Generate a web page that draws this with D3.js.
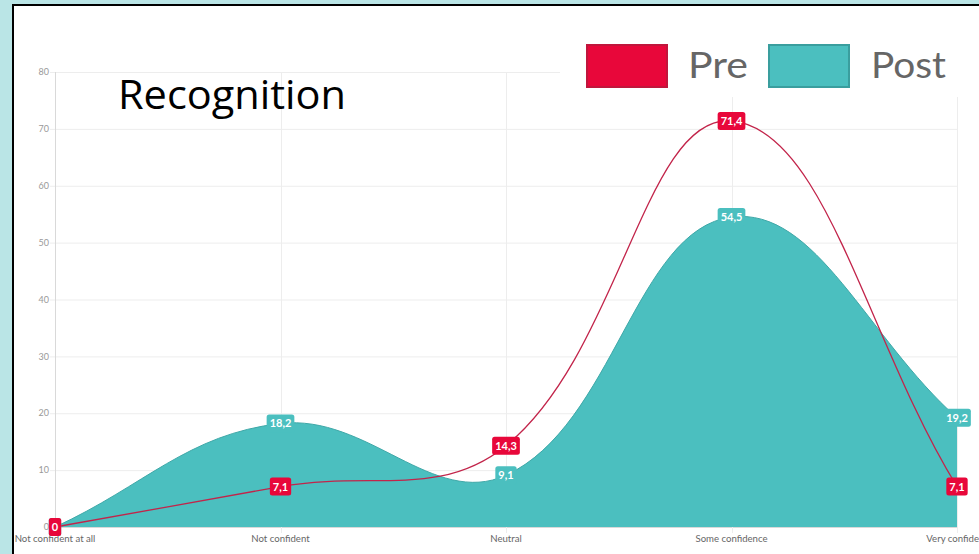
<!DOCTYPE html>
<html><head><meta charset="utf-8">
<script src="https://cdn.jsdelivr.net/npm/d3@7"></script>
<style>
html,body{margin:0;padding:0;background:#bae5e6;}
svg{display:block;}
</style></head>
<body>
<svg id="c" width="979" height="554"></svg>
<script>
const categories = ["Not confident at all","Not confident","Neutral","Some confidence","Very confident"];
const preValues = [0, 7.1, 14.3, 71.4, 7.1];
const postValues = [0, 18.2, 9.1, 54.5, 19.2];
const yTicks = [0,10,20,30,40,50,60,70,80];
const seriesNames = ["Pre","Post"];
const titleText = "Recognition";

const svg = d3.select("#c");
const W = 979, H = 554;
const area = {left:55, right:957, top:72, bottom:527};

svg.append("rect").attr("x",0).attr("y",0).attr("width",W).attr("height",H).attr("fill","#bae5e6");
svg.append("rect").attr("x",13).attr("y",5).attr("width",W-13).attr("height",H-5).attr("fill","#ffffff");

const x = d3.scalePoint().domain(categories).range([area.left, area.right]);
const y = d3.scaleLinear().domain([0,80]).range([area.bottom, area.top]);

// grid
const g = svg.append("g");
g.selectAll(".hg").data(yTicks).join("line")
  .attr("x1",area.left-5).attr("x2",area.right)
  .attr("y1",d=>y(d)+0.5).attr("y2",d=>y(d)+0.5)
  .attr("stroke",d=>d===0?"#d9d9d9":"#ededed").attr("stroke-width",1);
g.selectAll(".vg").data(categories).join("line")
  .attr("x1",d=>Math.round(x(d))+0.5).attr("x2",d=>Math.round(x(d))+0.5)
  .attr("y1",area.top).attr("y2",area.bottom+6)
  .attr("stroke",(d,i)=>i===0?"#d9d9d9":"#ededed").attr("stroke-width",1);

// axis labels
g.selectAll(".yl").data(yTicks).join("text")
  .attr("x",area.left-6).attr("y",d=>y(d)).attr("dy","0.35em")
  .attr("text-anchor","end").attr("font-family","Lato").attr("font-size",9)
  .attr("fill","#999").text(d=>d);
g.selectAll(".xl").data(categories).join("text")
  .attr("x",d=>x(d)).attr("y",area.bottom+15)
  .attr("text-anchor","middle").attr("font-family","Lato").attr("font-size",9.6)
  .attr("fill","#666").text(d=>d);

// Chart.js-style spline
function chartPath(vals, closeToBase){
  const pts = vals.map((v,i)=>({x:x(categories[i]), y:y(v)}));
  const t = 0.4, n = pts.length;
  pts.forEach((p,i)=>{
    const prev = pts[Math.max(i-1,0)], next = pts[Math.min(i+1,n-1)];
    const d01 = Math.hypot(p.x-prev.x,p.y-prev.y), d12 = Math.hypot(next.x-p.x,next.y-p.y);
    let s01 = d01/(d01+d12), s12 = d12/(d01+d12);
    if(isNaN(s01)) s01=0; if(isNaN(s12)) s12=0;
    const fa=t*s01, fb=t*s12;
    p.cpPx = p.x - fa*(next.x-prev.x); p.cpPy = p.y - fa*(next.y-prev.y);
    p.cpNx = p.x + fb*(next.x-prev.x); p.cpNy = p.y + fb*(next.y-prev.y);
    const cx=v=>Math.max(area.left,Math.min(area.right,v));
    const cy=v=>Math.max(area.top,Math.min(area.bottom,v));
    p.cpPx=cx(p.cpPx); p.cpNx=cx(p.cpNx); p.cpPy=cy(p.cpPy); p.cpNy=cy(p.cpNy);
  });
  const path = d3.path();
  path.moveTo(pts[0].x,pts[0].y);
  for(let i=1;i<n;i++){
    const a=pts[i-1], b=pts[i];
    path.bezierCurveTo(a.cpNx,a.cpNy,b.cpPx,b.cpPy,b.x,b.y);
  }
  if(closeToBase){
    path.lineTo(pts[n-1].x, y(0));
    path.lineTo(pts[0].x, y(0));
    path.closePath();
  }
  return path.toString();
}

// Post area
svg.append("path").attr("d",chartPath(postValues,true)).attr("fill","#4bbfbf");
svg.append("path").attr("d",chartPath(postValues,false)).attr("fill","none").attr("stroke","#3fa8a8").attr("stroke-width",1);
// Pre line
svg.append("path").attr("d",chartPath(preValues,false)).attr("fill","none").attr("stroke","#c2244a").attr("stroke-width",1.3);

// data labels
function labels(vals, color){
  const lg = svg.append("g");
  vals.forEach((v,i)=>{
    const cx = x(categories[i]), cy = y(v);
    const txt = String(v).replace(".",",");
    const gg = lg.append("g");
    const r = gg.append("rect").attr("fill",color).attr("rx",2.5);
    const t = gg.append("text").attr("x",cx).attr("y",cy).attr("dy","0.36em")
      .attr("text-anchor","middle").attr("font-family","Lato").attr("font-weight","bold")
      .attr("font-size",11).attr("fill","#fff").text(txt);
    const w = t.node().getComputedTextLength();
    r.attr("x",cx-w/2-3).attr("y",cy-9).attr("width",w+6).attr("height",18);
  });
}
labels(postValues,"#4bbfbf");
labels(preValues,"#e8073a");

// title
svg.append("text").attr("x",118).attr("y",109).attr("font-family","Open Sans")
  .attr("font-size",41).attr("fill","#000").attr("textLength",228)
  .attr("lengthAdjust","spacingAndGlyphs").text(titleText);

// legend
const lg = svg.append("g");
lg.append("rect").attr("x",560).attr("y",30).attr("width",W-560).attr("height",67).attr("fill","#fff");
const legColors = [["#e8073a","#c0163c"],["#4bbfbf","#3a9e9e"]];
const legX = [586, 768];
const legTX = [688, 871];
const legTW = [60, 75];
seriesNames.forEach((s,i)=>{
  lg.append("rect").attr("x",legX[i]+1).attr("y",45).attr("width",80).attr("height",42)
    .attr("fill",legColors[i][0]).attr("stroke",legColors[i][1]).attr("stroke-width",2);
  lg.append("text").attr("x",legTX[i]).attr("y",78).attr("font-family","Lato")
    .attr("font-size",36).attr("fill","#666").attr("textLength",legTW[i])
    .attr("lengthAdjust","spacingAndGlyphs").text(s);
});

// black frame lines
svg.append("rect").attr("x",12).attr("y",4).attr("width",2).attr("height",H-4).attr("fill","#000");
svg.append("rect").attr("x",12).attr("y",4).attr("width",W-12).attr("height",2).attr("fill","#000");
</script>
</body></html>
